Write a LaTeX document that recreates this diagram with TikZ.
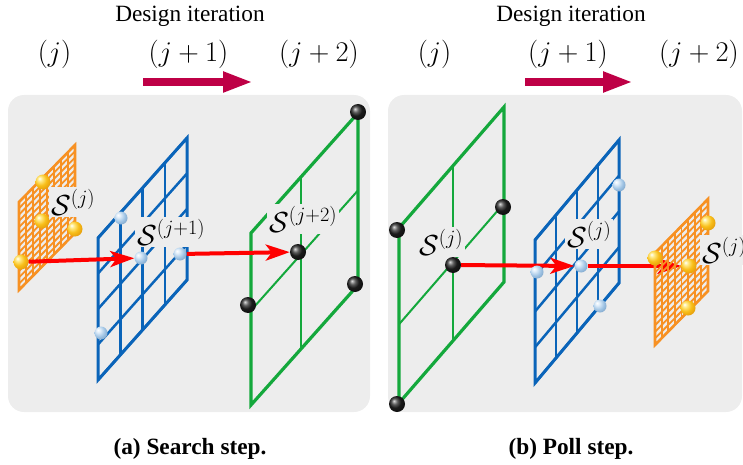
\RequirePackage{fix-cm}
\documentclass[tikz,border=0pt]{standalone}
\usepackage{fontspec}
\setmainfont{Liberation Serif}
\usetikzlibrary{arrows.meta}

\definecolor{panelgray}{RGB}{237,237,237}
\definecolor{gridgreen}{RGB}{20,168,60}
\definecolor{gridblue}{RGB}{10,100,185}
\definecolor{gridorange}{RGB}{247,145,35}
\definecolor{crimson}{RGB}{190,0,70}

% sphere shadings with the highlight to the upper left
\pgfdeclareradialshading{goldsphere}{\pgfqpoint{-12bp}{12bp}}{%
  color(0bp)=(white);
  color(7bp)=(rgb,255:red,255;green,236;blue,140);
  color(20bp)=(rgb,255:red,248;green,190;blue,25);
  color(42bp)=(rgb,255:red,214;green,132;blue,0);
  color(66bp)=(rgb,255:red,140;green,78;blue,0)}
\pgfdeclareradialshading{steelsphere}{\pgfqpoint{-12bp}{12bp}}{%
  color(0bp)=(white);
  color(8bp)=(rgb,255:red,225;green,238;blue,250);
  color(22bp)=(rgb,255:red,160;green,196;blue,228);
  color(44bp)=(rgb,255:red,100;green,140;blue,180);
  color(66bp)=(rgb,255:red,50;green,75;blue,105)}

\pgfdeclarelayer{panels}
\pgfdeclarelayer{gridlow}
\pgfdeclarelayer{arrowlayer}
\pgfdeclarelayer{gridhigh}
\pgfsetlayers{panels,gridlow,arrowlayer,gridhigh,main}

% sheared mesh: #1 inner line style, #2 frame style, #3/#4 lower-left corner,
% #5 width, #6 rise of the lower edge, #7 height, #8 columns, #9 rows
\newcommand{\skewgrid}[9]{%
  \foreach \i in {0,...,#8}
    \draw[#1] ({#3+\i*#5/#8},{#4-\i*#6/#8}) -- ++(0,-#7);
  \foreach \k in {0,...,#9}
    \draw[#1] (#3,{#4-\k*#7/#9}) -- ++(#5,-#6);
  \draw[#2] (#3,#4) -- ++(#5,-#6) -- ++(0,-#7) -- ++(-#5,#6) -- cycle;
}

\tikzset{
  panel/.style={fill=panelgray, rounded corners=16pt},
  heading/.style={font=\fontsize{23.3}{26}\selectfont, anchor=base, inner sep=0pt},
  iterlabel/.style={font=\fontsize{28.5}{30}\selectfont, anchor=base, inner sep=0pt},
  captiontext/.style={font=\fontsize{23.3}{26}\selectfont\bfseries, anchor=base, inner sep=0pt},
  setlabel/.style={font=\fontsize{29}{30}\selectfont, fill=panelgray, inner sep=2pt, anchor=base west},
  iterarrow/.style={draw=crimson, line width=7.5pt, -{Triangle[length=30pt,width=19pt]}},
  stepmove/.style={draw=red, line width=4pt, -{Stealth[length=24pt,width=16pt,inset=6pt]}},
  goldpt/.style={circle, inner sep=0pt, minimum size=15pt, shading=goldsphere},
  bluept/.style={circle, inner sep=0pt, minimum size=13pt, shading=steelsphere},
  blackpt/.style={circle, inner sep=0pt, minimum size=16pt, shading=ball, ball color=black!85},
  orangeinner/.style={draw=gridorange, line width=1.8pt},
  orangeframe/.style={draw=gridorange, line width=2.6pt},
  blueinner/.style={draw=gridblue, line width=2.5pt},
  blueframe/.style={draw=gridblue, line width=3pt},
  greeninner/.style={draw=gridgreen, line width=2pt},
  greenframe/.style={draw=gridgreen, line width=3.2pt},
}

\begin{document}
\begin{tikzpicture}[x=1pt,y=-1pt]
\useasboundingbox (0,0) rectangle (743,465);

% ---------- backgrounds ----------
\begin{pgfonlayer}{panels}
  \fill[panel] (8,95) rectangle (370,412);
  \fill[panel] (388,95) rectangle (742,412);
\end{pgfonlayer}

% ---------- headings ----------
\node[heading] (hdA) at (190,22) {Design iteration};
\node[iterlabel] (itA0) at (54.5,62) {$(j)$};
\node[iterlabel] (itA1) at (188.5,62) {$(j+1)$};
\node[iterlabel] (itA2) at (319,62) {$(j+2)$};
\coordinate (arA0) at (143,82);
\coordinate (arA1) at (253,82);
\draw[iterarrow] (arA0) -- (arA1);

\node[heading] (hdB) at (571,22) {Design iteration};
\node[iterlabel] (itB0) at (434.5,62) {$(j)$};
\node[iterlabel] (itB1) at (568,62) {$(j+1)$};
\node[iterlabel] (itB2) at (699,62) {$(j+2)$};
\coordinate (arB0) at (525,82);
\coordinate (arB1) at (633,82);
\draw[iterarrow] (arB0) -- (arB1);

% ---------- search step ----------
\begin{pgfonlayer}{gridlow}
  \skewgrid{orangeinner}{orangeframe}{19}{290}{56}{57}{88}{8}{14}
  \skewgrid{blueinner}{blueframe}{98}{380}{89}{100}{142}{4}{4}
  \draw[greenframe] (251,405) -- ++(107,-120) -- ++(0,-172) -- ++(-107,120) -- cycle;
  \draw[greeninner] (301.3,348.6) -- ++(0,-172);
  \draw[greeninner] (251,310.4) -- ++(107,-120);
\end{pgfonlayer}

\node[setlabel] (lblA) at (49,215) {$\mathcal{S}^{(j)}$};
\node[setlabel] (lblB) at (135,245) {$\mathcal{S}^{(j+1)}$};
\node[setlabel] (lblC) at (267,232) {$\mathcal{S}^{(j+2)}$};

\node[goldpt] (sa1) at (43,182) {};
\node[goldpt] (sa2) at (42,221) {};
\node[goldpt] (sa3) at (75,229) {};
\node[goldpt] (sa4) at (21,262) {};
\node[bluept] (sb1) at (121,218) {};
\node[bluept] (sb2) at (141,258) {};
\node[bluept] (sb3) at (180,254) {};
\node[bluept] (sb4) at (101,333) {};
\node[blackpt] (sc1) at (358,112) {};
\node[blackpt] (sc2) at (298,252) {};
\node[blackpt] (sc3) at (248,305) {};
\node[blackpt] (sc4) at (355,284) {};

\begin{pgfonlayer}{arrowlayer}
  \draw[stepmove] (sa4) -- (sb2);
  \draw[stepmove] (sb3) -- (sc2);
\end{pgfonlayer}

% ---------- poll step ----------
\begin{pgfonlayer}{gridlow}
  \draw[greenframe] (399,403) -- ++(105,-121) -- ++(0,-175) -- ++(-105,121) -- cycle;
  \draw[greeninner] (452.5,341.3) -- ++(0,-175);
  \draw[greeninner] (399,324.3) -- ++(105,-121);
  \skewgrid{blueinner}{blueframe}{535}{383}{84}{100}{143}{4}{4}
\end{pgfonlayer}
\begin{pgfonlayer}{gridhigh}
  \skewgrid{orangeinner}{orangeframe}{655}{345}{53}{54}{92}{8}{14}
\end{pgfonlayer}

\node[setlabel] (lblD) at (417,255) {$\mathcal{S}^{(j)}$};
\node[setlabel] (lblE) at (565,247) {$\mathcal{S}^{(j)}$};
\node[setlabel] (lblF) at (700,263) {$\mathcal{S}^{(j)}$};

\node[blackpt] (pc1) at (397,230) {};
\node[blackpt] (pc2) at (503,207) {};
\node[blackpt] (pc3) at (453,265) {};
\node[blackpt] (pc4) at (397,404) {};
\node[bluept] (pb1) at (537,272) {};
\node[bluept] (pb2) at (581,266) {};
\node[bluept] (pb3) at (619,185) {};
\node[bluept] (pb4) at (600,306) {};
\node[goldpt] (pa1) at (655,258) {};
\node[goldpt] (pa2) at (689,266) {};
\node[goldpt] (pa3) at (708,223) {};
\node[goldpt] (pa4) at (688,308) {};

\begin{pgfonlayer}{arrowlayer}
  \draw[stepmove] (pc3) -- (pb2);
  \draw[stepmove] (pb2) -- (pa2);
\end{pgfonlayer}

% ---------- captions ----------
\node[captiontext] (capA) at (190,454) {(a) Search step.};
\node[captiontext] (capB) at (571,454) {(b) Poll step.};
\end{tikzpicture}
\end{document}
